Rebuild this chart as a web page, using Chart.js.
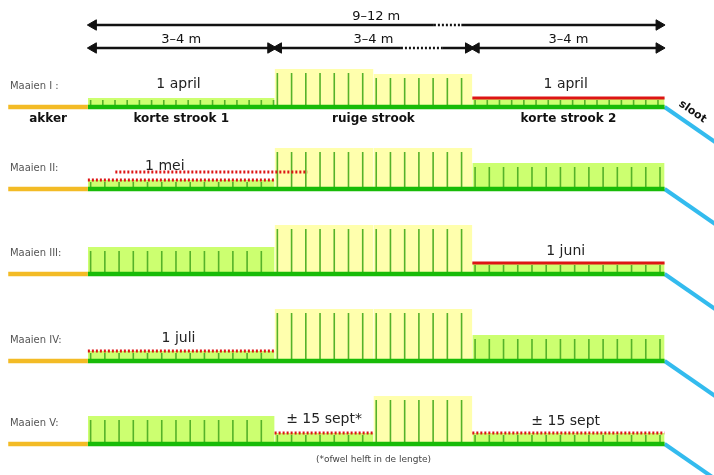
<!DOCTYPE html>
<html>
<head>
<meta charset="utf-8">
<script src="https://cdn.jsdelivr.net/npm/chart.js@4.4.1/dist/chart.umd.min.js"></script>
<style>
  html, body { margin: 0; padding: 0; background: #fff; }
</style>
</head>
<body>
<canvas id="maaiChart" width="714" height="475"></canvas>
<script>
// rondes en stroken
const rounds = ['Maaien I :', 'Maaien II:', 'Maaien III:', 'Maaien IV:', 'Maaien V:'];
const strips = ['akker', 'korte strook 1', 'ruige strook', 'korte strook 2'];
const stripEdges = [-1.45, 0, 3.4, 7.0, 10.5]; // m
const ruigeSplit = 5.2; // helft van de ruige strook

// hoogte van de vegetatie per ronde
const heightKorte1 = [9, 9, 27, 10, 28];
const heightRuigeA = [38, 41, 49, 52, 11];
const heightRuigeB = [33, 41, 49, 52, 48];
const heightKorte2 = [9, 26, 11, 26, 11];

// gemaaid: 'solid', 'dot' of null
const mowKorte1 = [null, 'dot', null, 'dot', null];
const mowRuigeA = [null, null, null, null, 'dot'];
const mowKorte2 = ['solid', null, 'solid', null, 'dot'];

// maaidata
const dateKorte1 = ['1 april', '1 mei', '', '1 juli', ''];
const dateRuigeA = ['', '', '', '', '± 15 sept*'];
const dateKorte2 = ['1 april', '', '1 juni', '', '± 15 sept'];

const widthLabels = ['9–12 m', '3–4 m', '3–4 m', '3–4 m'];
const footnote = '(*ofwel helft in de lengte)';

// opmaak
const rowGround = [107, 189, 274, 361, 444];
const LIGHT = '#ccff70', YELLOW = '#ffffad', BLADE = '#55b22a', GROUND = '#18bb08';
const RED = '#dd1515', AKKER = '#f3bb25', SLOOT = '#33bbee';
const FONT = '"DejaVu Sans", Verdana, sans-serif';

const datasets = [];

function line(points, color, width, extra) {
  return Object.assign({
    type: 'line', data: points, borderColor: color, borderWidth: width,
    pointRadius: 0, fill: false, tension: 0, spanGaps: false
  }, extra || {});
}

function arrow(x0, x1, yv, heads, dash) {
  datasets.push(line([{x: x0, y: yv}, {x: x1, y: yv}], '#111', 2.5, {
    order: 10,
    borderDash: dash || [],
    pointStyle: 'triangle',
    pointRadius: [heads[0] ? 6 : 0, heads[1] ? 6 : 0],
    pointRotation: [-90, 90],
    pointBackgroundColor: '#111',
    pointBorderColor: '#111',
    pointBorderWidth: 1
  }));
}

rounds.forEach((r, i) => {
  const g = rowGround[i];
  const segs = [
    {x0: stripEdges[1], x1: stripEdges[2], h: heightKorte1[i], mow: mowKorte1[i], ruig: false},
    {x0: stripEdges[2], x1: ruigeSplit, h: heightRuigeA[i], mow: mowRuigeA[i], ruig: true},
    {x0: ruigeSplit, x1: stripEdges[3], h: heightRuigeB[i], mow: null, ruig: true},
    {x0: stripEdges[3], x1: stripEdges[4], h: heightKorte2[i], mow: mowKorte2[i], ruig: false}
  ];
  segs.forEach(s => {
    const top = g - s.h;
    const color = (s.ruig && !s.mow) ? YELLOW : LIGHT;
    datasets.push(line([{x: s.x0, y: top}, {x: s.x1, y: top}], 'rgba(0,0,0,0)', 0, {
      order: 50, backgroundColor: color, fill: {value: g}
    }));
    // grassprieten
    const step = (i === 0 && s.h < 15) ? 0.222 : 0.259;
    const bladeTop = s.h < 15 ? top + 2 : top + 4;
    const pts = [];
    for (let bx = s.x0 + 0.05; bx < s.x1; bx += step) {
      pts.push({x: bx, y: g}, {x: bx, y: bladeTop}, {x: bx, y: null});
    }
    datasets.push(line(pts, BLADE, 1.6, {order: 40}));
    if (s.mow) {
      datasets.push(line([{x: s.x0, y: top}, {x: s.x1, y: top}], RED, 3, {
        order: 30, borderDash: s.mow === 'dot' ? [2, 2] : []
      }));
    }
  });
  // akker, maaiveld en sloot
  datasets.push(line([{x: stripEdges[0], y: g}, {x: stripEdges[1], y: g}], AKKER, 4.5, {order: 20}));
  datasets.push(line([{x: stripEdges[1], y: g}, {x: stripEdges[4], y: g}], GROUND, 4.5, {order: 20}));
  datasets.push(line([{x: stripEdges[4], y: g}, {x: 11.5, y: g + 38}], SLOOT, 4, {order: 20}));
});

// extra maailijn in ronde II
datasets.push(line([{x: 0.5, y: rowGround[1] - 17}, {x: 4.0, y: rowGround[1] - 17}], RED, 3, {
  order: 30, borderDash: [2, 2]
}));

// maatpijlen
arrow(0.1, 6.3, 25, [true, false]);
arrow(6.3, 6.8, 25, [false, false], [2, 2]);
arrow(6.8, 10.4, 25, [false, true]);
arrow(0.1, 3.33, 48, [true, true]);
arrow(3.47, 5.7, 48, [true, false]);
arrow(5.7, 6.45, 48, [false, false], [2, 2]);
arrow(6.45, 6.93, 48, [false, true]);
arrow(7.07, 10.4, 48, [true, true]);

const textPlugin = {
  id: 'texts',
  afterDatasetsDraw(chart) {
    const {ctx, scales: {x, y}} = chart;
    const put = (txt, xv, yv, font, color, align) => {
      if (!txt) return;
      ctx.save();
      ctx.font = font;
      ctx.fillStyle = color;
      ctx.textAlign = align || 'center';
      ctx.textBaseline = 'middle';
      ctx.fillText(txt, x.getPixelForValue(xv), y.getPixelForValue(yv));
      ctx.restore();
    };
    const mid = (a, b) => (a + b) / 2;
    put(widthLabels[0], mid(stripEdges[1], stripEdges[4]), 17, '13px ' + FONT, '#111');
    put(widthLabels[1], mid(stripEdges[1], stripEdges[2]), 40, '13px ' + FONT, '#111');
    put(widthLabels[2], mid(stripEdges[2], stripEdges[3]), 40, '13px ' + FONT, '#111');
    put(widthLabels[3], mid(stripEdges[3], stripEdges[4]), 40, '13px ' + FONT, '#111');

    rounds.forEach((r, i) => {
      const g = rowGround[i];
      put(r, -1.42, g - 21, '10px ' + FONT, '#555', 'left');
      put(dateKorte1[i], i === 1 ? 1.4 : 1.65, g - 23, '14px ' + FONT, '#222');
      put(dateRuigeA[i], 4.3, g - 25, '14px ' + FONT, '#222');
      put(dateKorte2[i], 8.7, g - 23, '14px ' + FONT, '#222');
    });

    const below = rowGround[0] + 12;
    put(strips[0], mid(stripEdges[0], stripEdges[1]), below, 'bold 12px ' + FONT, '#111');
    put(strips[1], mid(stripEdges[1], stripEdges[2]), below, 'bold 12px ' + FONT, '#111');
    put(strips[2], mid(stripEdges[2], stripEdges[3]), below, 'bold 12px ' + FONT, '#111');
    put(strips[3], mid(stripEdges[3], stripEdges[4]), below, 'bold 12px ' + FONT, '#111');

    // sloot, schuin langs de oever
    ctx.save();
    ctx.translate(x.getPixelForValue(10.78), y.getPixelForValue(rowGround[0] - 4));
    ctx.rotate(35 * Math.PI / 180);
    ctx.font = 'bold 11px ' + FONT;
    ctx.fillStyle = '#111';
    ctx.textBaseline = 'middle';
    ctx.fillText('sloot', 0, 0);
    ctx.restore();

    put(footnote, 5.2, 460, '9px ' + FONT, '#444');
  }
};

new Chart(document.getElementById('maaiChart'), {
  type: 'line',
  data: {datasets: datasets},
  options: {
    responsive: false,
    animation: false,
    events: [],
    layout: {padding: 0, autoPadding: false},
    plugins: {legend: {display: false}, tooltip: {enabled: false}},
    scales: {
      x: {type: 'linear', min: -1.6, max: 11.4, display: false},
      y: {type: 'linear', min: 0, max: 475, reverse: true, display: false}
    }
  },
  plugins: [textPlugin]
});
</script>
</body>
</html>
